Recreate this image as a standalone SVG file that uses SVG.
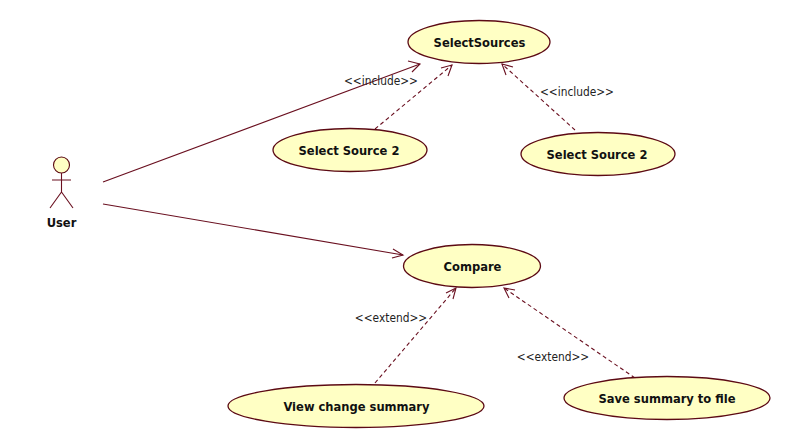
<svg xmlns="http://www.w3.org/2000/svg" width="789" height="448" viewBox="0 0 789 448">
<style>
text{font-family:"DejaVu Sans Condensed","DejaVu Sans","Liberation Sans",sans-serif;font-stretch:condensed;text-anchor:middle}
.uc{fill:#ffffc4;stroke:#5c0a14;stroke-width:1.3}
.n{font-size:12.800px;font-weight:bold;fill:#111}
.l{font-size:11.800px;fill:#222}
.c{fill:none;stroke:#6a1020;stroke-width:1.100}
.d{stroke-dasharray:4 3}
.h{fill:none;stroke:#6a1020;stroke-width:1.100}
</style>
<rect width="789" height="448" fill="#fff"/>
<g id="connectors">
<path class="c" d="M103 182L420 64"/><path class="h" d="M408 61L420 64L412 72"/>
<path class="c" d="M103 204L403 255"/><path class="h" d="M393 249L403 255L392 258"/>
<path class="c d" d="M375 129L452 65"/><path class="h" d="M441 68L452 65L448 76"/>
<path class="c d" d="M575 130L502 64"/><path class="h" d="M506 75L502 64L513 67"/>
<path class="c d" d="M375 383L456 288"/><path class="h" d="M446 293L456 288L453 299"/>
<path class="c d" d="M635 378L504 288"/><path class="h" d="M509 298L504 288L515 290"/>
</g>
<g id="SelectSources"><ellipse class="uc" cx="479" cy="42" rx="71" ry="21.500"/><text class="n" x="479.500" y="47">SelectSources</text></g>
<g id="SelectSource2a"><ellipse class="uc" cx="350" cy="150" rx="77" ry="21.500"/><text class="n" x="349" y="155">Select Source 2</text></g>
<g id="SelectSource2b"><ellipse class="uc" cx="598" cy="154" rx="77" ry="21.500"/><text class="n" x="597" y="159">Select Source 2</text></g>
<g id="Compare"><ellipse class="uc" cx="472" cy="266" rx="68.500" ry="21.500"/><text class="n" x="472.500" y="271">Compare</text></g>
<g id="ViewChangeSummary"><ellipse class="uc" cx="356" cy="406" rx="128" ry="21.500"/><text class="n" x="356.500" y="411">View change summary</text></g>
<g id="SaveSummary"><ellipse class="uc" cx="667" cy="398" rx="103" ry="21.500"/><text class="n" x="667" y="403">Save summary to file</text></g>
<g id="User">
<circle cx="61.500" cy="165" r="8" fill="#ffffc4" stroke="#5c0a14" stroke-width="1.100"/>
<path class="c" d="M61.500 173V192M52 180H71M61.500 192L50 208M61.500 192L73 208"/>
<text class="n" x="61.500" y="227">User</text>
</g>
<g id="labels">
<text class="l" x="381" y="85">&lt;&lt;include&gt;&gt;</text>
<text class="l" x="577" y="96">&lt;&lt;include&gt;&gt;</text>
<text class="l" x="391" y="322">&lt;&lt;extend&gt;&gt;</text>
<text class="l" x="553" y="361">&lt;&lt;extend&gt;&gt;</text>
</g>
</svg>
